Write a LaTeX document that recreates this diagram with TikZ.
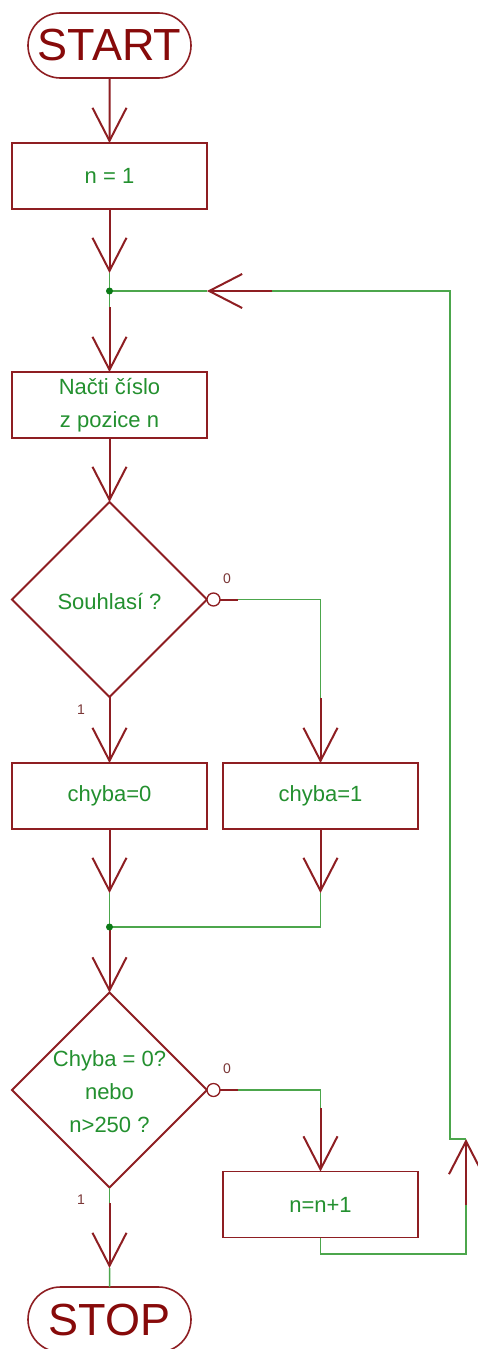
\documentclass[tikz,border=0pt]{standalone}
\usepackage{fontspec}
\setmainfont{Liberation Sans}
\usetikzlibrary{arrows.meta,shapes.geometric,shapes.misc}
\definecolor{lred}{HTML}{8E1E22}
\definecolor{tred}{HTML}{870A0A}
\definecolor{lgreen}{HTML}{4CA64C}
\definecolor{tgreen}{HTML}{23902F}
\definecolor{dgreen}{HTML}{0B7A16}
\definecolor{lbl}{HTML}{7A3636}
\begin{document}
\begin{tikzpicture}[x=1pt,y=-1pt,
  redline/.style={draw=lred, line width=2pt},
  greenline/.style={draw=lgreen, line width=1.5pt},
  vee/.style={-{Straight Barb[length=33pt,width=34pt]}},
  term/.style={rounded rectangle, draw=lred, line width=1.6pt, minimum width=163pt, minimum height=65pt, inner sep=0pt, outer sep=0pt, text=tred, font=\fontsize{45}{45}\selectfont},
  proc/.style={rectangle, draw=lred, line width=1.8pt, minimum width=195pt, minimum height=66pt, inner sep=0pt, outer sep=0pt, text=tgreen, font=\fontsize{22}{33}\selectfont, align=center},
  dec/.style={diamond, draw=lred, line width=1.8pt, minimum width=195pt, minimum height=195pt, inner sep=0pt, outer sep=0pt},
  dectext/.style={text=tgreen, font=\fontsize{22}{33}\selectfont, align=center, inner sep=0pt},
  neg/.style={circle, draw=lred, line width=1.3pt, fill=white, minimum size=13pt, inner sep=0pt, outer sep=0pt},
  lab/.style={text=lbl, font=\fontsize{14}{14}\selectfont, inner sep=0pt},
  jdot/.style={circle, fill=dgreen, minimum size=7pt, inner sep=0pt}
]
\clip (0,0) rectangle (478,1349);
\fill[white] (0,0) rectangle (478,1349);

% nodes
\node[term] (start) at (109.5,45.5) {START};
\node[proc] (n1) at (109.5,176) {n = 1};
\node[proc] (read) at (109.5,405) {Načti číslo\\z pozice n};
\node[dec] (d1) at (109.5,599.5) {};
\node[dectext] (d1t) at (109.5,601) {Souhlasí ?};
\node[neg] (o1) at (213.5,599.5) {};
\node[proc] (c0) at (109.5,796) {chyba=0};
\node[proc] (c1) at (320.5,796) {chyba=1};
\node[dec] (d2) at (109.5,1090) {};
\node[dectext] (d2t) at (109.5,1092) {Chyba = 0?\\nebo\\n>250 ?};
\node[neg] (o2) at (213.5,1090) {};
\node[proc] (inc) at (320.5,1204.5) {n=n+1};
\node[term] (stop) at (109.5,1319.5) {STOP};

\node[lab] (l0a) at (227,579) {0};
\node[lab] (l1a) at (81,710) {1};
\node[lab] (l0b) at (227,1069) {0};
\node[lab] (l1b) at (81,1200) {1};

% coordinates
\coordinate (a1) at (109.5,273);
\coordinate (j1) at (109.5,291);
\coordinate (b1) at (109.5,307);
\coordinate (r1) at (238,599.5);
\coordinate (r2) at (320.5,599.5);
\coordinate (r3) at (320.5,698);
\coordinate (a2) at (109.5,893);
\coordinate (a3) at (320.5,893);
\coordinate (j2) at (109.5,927);
\coordinate (s1) at (238,1090);
\coordinate (s2) at (320.5,1090);
\coordinate (s3) at (320.5,1108);
\coordinate (e1) at (109.5,1203);
\coordinate (e2) at (109.5,1268);
\coordinate (p1) at (320.5,1254);
\coordinate (p2) at (466,1254);
\coordinate (p3) at (466,1205);
\coordinate (p4) at (466,1139);
\coordinate (p5) at (450,1139);
\coordinate (p6) at (450,291);
\coordinate (p7) at (272,291);
\coordinate (p8) at (207,291);

% connectors
\draw[redline,vee] (start) -- (n1);
\draw[redline,vee] (n1) -- (a1);
\draw[greenline] (a1) -- (j1) -- (b1);
\draw[redline,vee] (b1) -- (read);
\draw[redline,vee] (read) -- (d1);
\draw[redline,vee] (d1) -- (c0);
\draw[redline] (o1) -- (r1);
\draw[greenline] (r1) -- (r2) -- (r3);
\draw[redline,vee] (r3) -- (c1);
\draw[redline,vee] (c0) -- (a2);
\draw[greenline] (a2) -- (j2);
\draw[redline,vee] (c1) -- (a3);
\draw[greenline] (a3) -- (320.5,927) -- (j2);
\draw[redline,vee] (j2) -- (d2);
\draw[redline] (o2) -- (s1);
\draw[greenline] (s1) -- (s2) -- (s3);
\draw[redline,vee] (s3) -- (inc);
\draw[greenline] (d2) -- (e1);
\draw[redline,vee] (e1) -- (e2);
\draw[greenline] (e2) -- (stop);
\draw[greenline] (inc) -- (p1) -- (p2) -- (p3);
\draw[redline,vee] (p3) -- (p4);
\draw[greenline] (p4) -- (p5) -- (p6) -- (p7);
\draw[redline,vee] (p7) -- (p8);
\draw[greenline] (p8) -- (j1);

\node[jdot] (j1d) at (j1) {};
\node[jdot] (j2d) at (j2) {};
\end{tikzpicture}
\end{document}
